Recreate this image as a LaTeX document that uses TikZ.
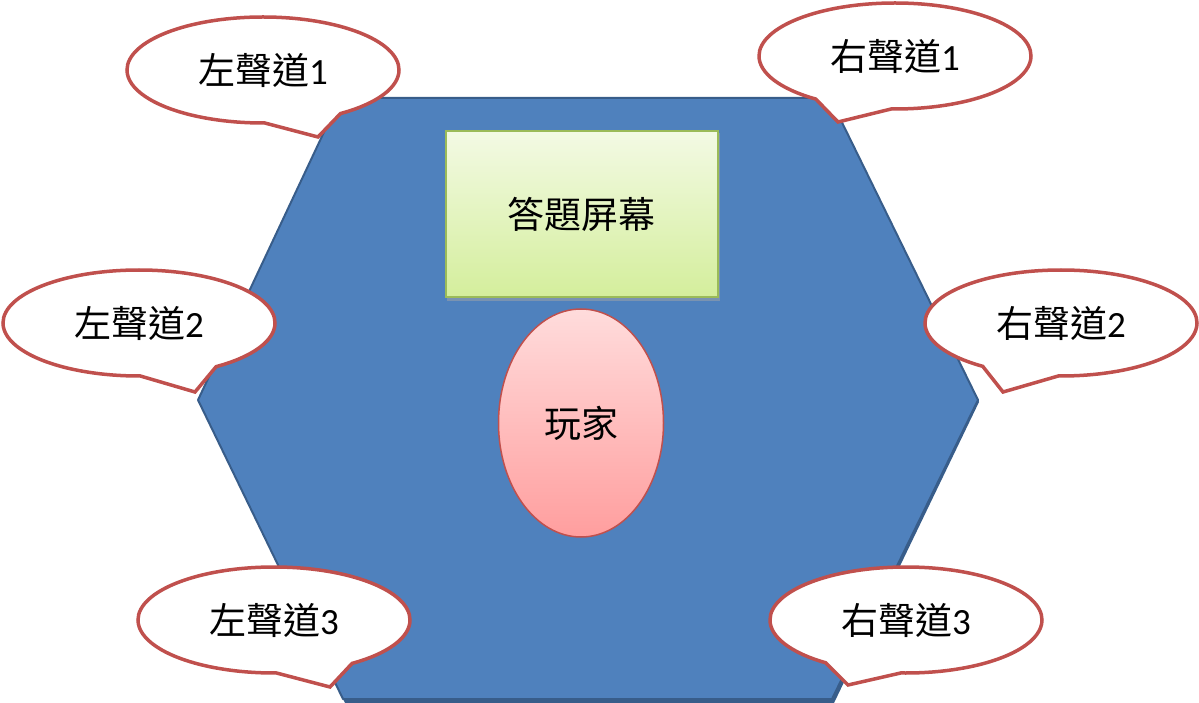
\documentclass[tikz,border=0pt]{standalone}
\usepackage{fontspec}
\setmainfont{Carlito}
\newfontfamily\cjk{Noto Sans CJK TC}
\usetikzlibrary{shapes.geometric,shapes.callouts}
\definecolor{hexfill}{HTML}{4F81BD}
\definecolor{hexline}{HTML}{385D8A}
\definecolor{calred}{HTML}{C0504D}
\definecolor{grline}{HTML}{9BBB59}
\definecolor{grtop}{HTML}{F3FAE4}
\definecolor{grbot}{HTML}{D4EE9C}
\definecolor{pktop}{HTML}{FFDCDC}
\definecolor{pkbot}{HTML}{FF9E9E}
\tikzset{
  bubble/.style={ellipse callout, draw=calred, line width=3.5pt, fill=white,
    minimum width=272pt, minimum height=106pt, inner sep=0pt,
    callout pointer arc=34, font=\fontsize{37}{44}\selectfont},
  lbl/.style={font=\fontsize{37}{44}\selectfont}
}
\begin{document}
\begin{tikzpicture}[x=1pt,y=-1pt]
\useasboundingbox (0,0) rectangle (1199,703);
% hexagon (with faint shadow)
\fill[hexline] (341,100) -- (831,100) -- (979,402) -- (834,703) -- (345,703) -- (199,402) -- cycle;
\draw[fill=hexfill, draw=hexline, line width=2pt, line join=round]
  (340,98) -- (830,98) -- (978,400) -- (832,699) -- (343,699) -- (198,400) -- cycle;
% callouts
\coordinate (t1) at (318,137);
\coordinate (t2) at (195,392);
\coordinate (t3) at (330,687);
\coordinate (t4) at (838,122);
\coordinate (t5) at (1003,392);
\coordinate (t6) at (848,685);
\node[bubble, callout absolute pointer={(t1)}] (l1) at (263,70) {{\cjk 左聲道}1};
\node[bubble, callout absolute pointer={(t2)}] (l2) at (139,323) {{\cjk 左聲道}2};
\node[bubble, callout absolute pointer={(t3)}] (l3) at (274,620) {{\cjk 左聲道}3};
\node[bubble, callout absolute pointer={(t4)}] (r1) at (895,56) {{\cjk 右聲道}1};
\node[bubble, callout absolute pointer={(t5)}] (r2) at (1061,323) {{\cjk 右聲道}2};
\node[bubble, callout absolute pointer={(t6)}] (r3) at (906,620) {{\cjk 右聲道}3};
% screen
\fill[black!35, opacity=0.5] (447,133) rectangle (720,301);
\node[draw=grline, line width=2pt, top color=grtop, bottom color=grbot,
  minimum width=272pt, minimum height=166pt, inner sep=0pt, lbl] (screen) at (581.5,214) {\cjk 答題屏幕};
% player
\node[ellipse, draw=calred, line width=1.5pt, top color=pktop, bottom color=pkbot,
  minimum width=165pt, minimum height=228pt, inner sep=0pt, lbl] (player) at (581,423) {\cjk 玩家};
\end{tikzpicture}
\end{document}
